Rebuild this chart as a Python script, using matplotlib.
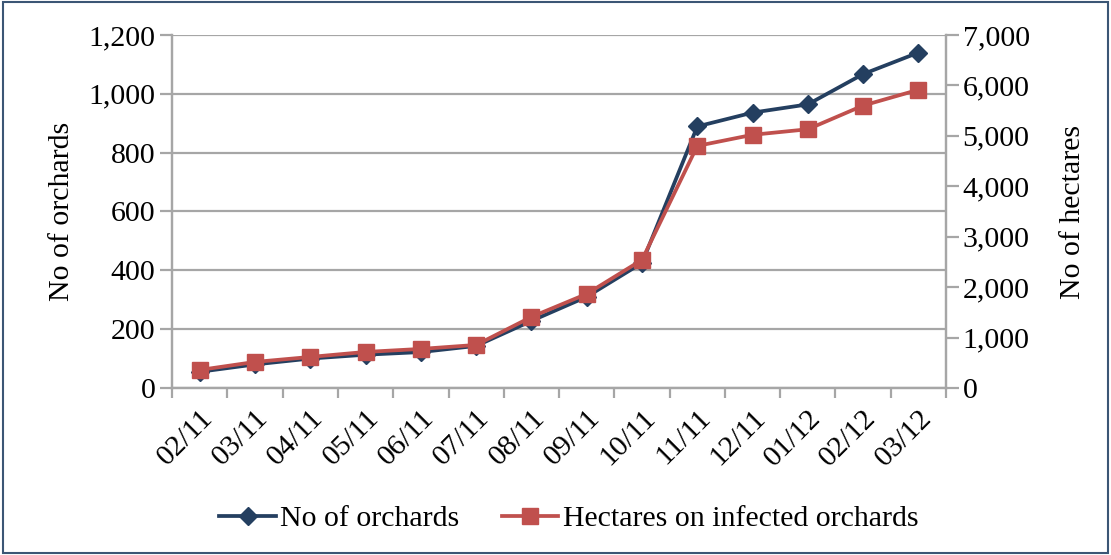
import matplotlib.pyplot as plt
from matplotlib.ticker import FuncFormatter, FixedLocator
from matplotlib.patches import Rectangle

plt.rcParams['font.family'] = ['Liberation Serif', 'DejaVu Serif']

months = ["02/11", "03/11", "04/11", "05/11", "06/11", "07/11", "08/11",
          "09/11", "10/11", "11/11", "12/11", "01/12", "02/12", "03/12"]
orchards = [55, 80, 100, 113, 122, 143, 228, 310, 425, 889, 936, 964, 1067, 1140]
hectares = [357, 516, 615, 714, 774, 853, 1409, 1865, 2540, 4800, 5020, 5130, 5600, 5913]

gray = '#a6a6a6'
blue = '#243f60'
red = '#c0504d'
fs = 21.5

fig = plt.figure(figsize=(11.11, 5.55), dpi=100)
ax = fig.add_axes([0.155, 0.301, 0.6965, 0.636])
ax2 = ax.twinx()

x = list(range(len(months)))
ax.plot(x, orchards, color=blue, lw=2.7, marker='D', markersize=9.5,
        label='No of orchards', zorder=3)
ax2.plot(x, hectares, color=red, lw=2.7, marker='s', markersize=11,
         label='Hectares on infected orchards', zorder=3)

ax.set_xlim(-0.5, len(months) - 0.5)
ax.set_ylim(0, 1200)
ax2.set_ylim(0, 7000)
ax.set_yticks(range(0, 1201, 200))
ax2.set_yticks(range(0, 7001, 1000))
fmt = FuncFormatter(lambda v, p: f"{int(v):,}")
ax.yaxis.set_major_formatter(fmt)
ax2.yaxis.set_major_formatter(fmt)

ax.yaxis.grid(True, color=gray, lw=1.6)
ax.set_axisbelow(True)

# category boundaries as ticks, labels at centres
ax.xaxis.set_major_locator(FixedLocator([i - 0.5 for i in range(len(months) + 1)]))
ax.xaxis.set_major_formatter(FuncFormatter(lambda v, p: ''))
ax.set_xticks(x, minor=True)
ax.set_xticklabels(months, minor=True, rotation=45, ha='right', va='top',
                   rotation_mode='anchor')
ax.tick_params(axis='x', which='minor', length=0, labelsize=fs, pad=12)
ax.tick_params(axis='x', which='major', length=7, width=1.6, color=gray)
ax.tick_params(axis='y', length=9, width=1.6, color=gray, labelsize=fs, pad=3)
ax2.tick_params(axis='y', length=9, width=1.6, color=gray, labelsize=fs, pad=3)

for a in (ax, ax2):
    a.spines['top'].set_visible(False)
    for s in ('left', 'right', 'bottom'):
        a.spines[s].set_color(gray)
        a.spines[s].set_linewidth(1.6)

ax.set_ylabel('No of orchards', fontsize=fs, labelpad=10)
ax2.set_ylabel('No of hectares', fontsize=fs, rotation=90, labelpad=22)

h1, l1 = ax.get_legend_handles_labels()
h2, l2 = ax2.get_legend_handles_labels()
fig.legend(h1 + h2, l1 + l2, loc='center', bbox_to_anchor=(0.512, 0.065),
           ncol=2, frameon=False, fontsize=fs, handlelength=1.9,
           columnspacing=1.4, handletextpad=0.15)

fig.patches.append(Rectangle((0.003, 0.004), 0.994, 0.992, transform=fig.transFigure,
                             fill=False, edgecolor='#3b5675', lw=1.5))

fig.savefig('out.png', dpi=100)
